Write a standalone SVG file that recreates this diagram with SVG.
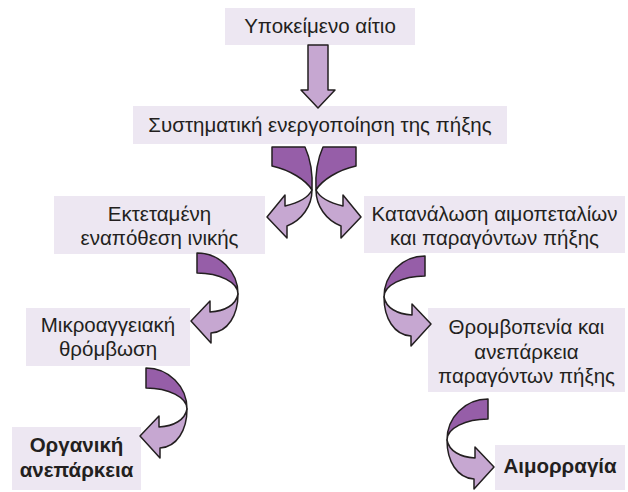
<svg xmlns="http://www.w3.org/2000/svg" xmlns:xlink="http://www.w3.org/1999/xlink" width="628" height="492" viewBox="0 0 628 492">
<style>
.box{fill:#ede7f2}
.t{font-family:"Liberation Sans",Arial,sans-serif;font-size:20.5px;fill:#231f20;text-anchor:middle}
.b{font-weight:bold}
.dk{fill:#965ea8;stroke:#231f20;stroke-width:1.5;stroke-linejoin:round}
.lt{fill:#c6a7d1;stroke:#231f20;stroke-width:1.5;stroke-linejoin:round}
</style>
<defs>
<g id="curve">
<path class="dk" d="M0,0 C22.6,0 41,18.4 41,41 C41,29.4 22.6,20 0,20 Z"/>
<path class="lt" d="M41,41 C41,62 31,79 14,80 L14,90 L-6,68 L13,48 L13,59 C28,58 39,52 41,41 Z"/>
</g>
<g id="bend">
<path class="dk" d="M272,147 L305,147 C310,158 313,172 312,190 C306,180 290,170 272,166 Z"/>
<path class="lt" d="M312,190 C312,206 302,220 287,226 L287,238 L267,217 L285,195 L285,206 C298,203 308,198 312,190 Z"/>
</g>
</defs>

<g id="n1">
<rect class="box" x="225" y="8" width="190" height="37"/>
<text class="t" x="320" y="33">Υποκείμενο αίτιο</text>
</g>
<g id="n2">
<rect class="box" x="133" y="106" width="374" height="38"/>
<text class="t" x="320" y="132">Συστηματική ενεργοποίηση της πήξης</text>
</g>
<g id="n3">
<rect class="box" x="54" y="196" width="211" height="58"/>
<text class="t" x="159.5" y="221">Εκτεταμένη</text>
<text class="t" x="159.5" y="245">εναπόθεση ινικής</text>
</g>
<g id="n4">
<rect class="box" x="364" y="196" width="261" height="57"/>
<text class="t" x="494.5" y="221">Κατανάλωση αιμοπεταλίων</text>
<text class="t" x="494.5" y="245">και παραγόντων πήξης</text>
</g>
<g id="n5">
<rect class="box" x="26" y="308" width="164" height="58"/>
<text class="t" x="108" y="332">Μικροαγγειακή</text>
<text class="t" x="108" y="356">θρόμβωση</text>
</g>
<g id="n6">
<rect class="box" x="12" y="427" width="129" height="63"/>
<text class="t b" x="76.5" y="452">Οργανική</text>
<text class="t b" x="76.5" y="477">ανεπάρκεια</text>
</g>
<g id="n7">
<rect class="box" x="428" y="308" width="197" height="84"/>
<text class="t" x="526.5" y="334">Θρομβοπενία και</text>
<text class="t" x="526.5" y="358.5">ανεπάρκεια</text>
<text class="t" x="526.5" y="383">παραγόντων πήξης</text>
</g>
<g id="n8">
<rect class="box" x="495" y="445" width="130" height="45"/>
<text class="t b" x="560" y="473">Αιμορραγία</text>
</g>

<g id="connectors">
<path class="lt" d="M308,45 L328,45 L328,90 L335,90 L318,108 L301,90 L308,90 Z"/>
<use xlink:href="#bend"/>
<use xlink:href="#bend" transform="translate(628,0) scale(-1,1)"/>
<use xlink:href="#curve" transform="translate(197,253)"/>
<use xlink:href="#curve" transform="translate(146,368)"/>
<use xlink:href="#curve" transform="translate(425,256) scale(-1,1)"/>
<use xlink:href="#curve" transform="translate(488,399) scale(-1,1)"/>
</g>
</svg>
